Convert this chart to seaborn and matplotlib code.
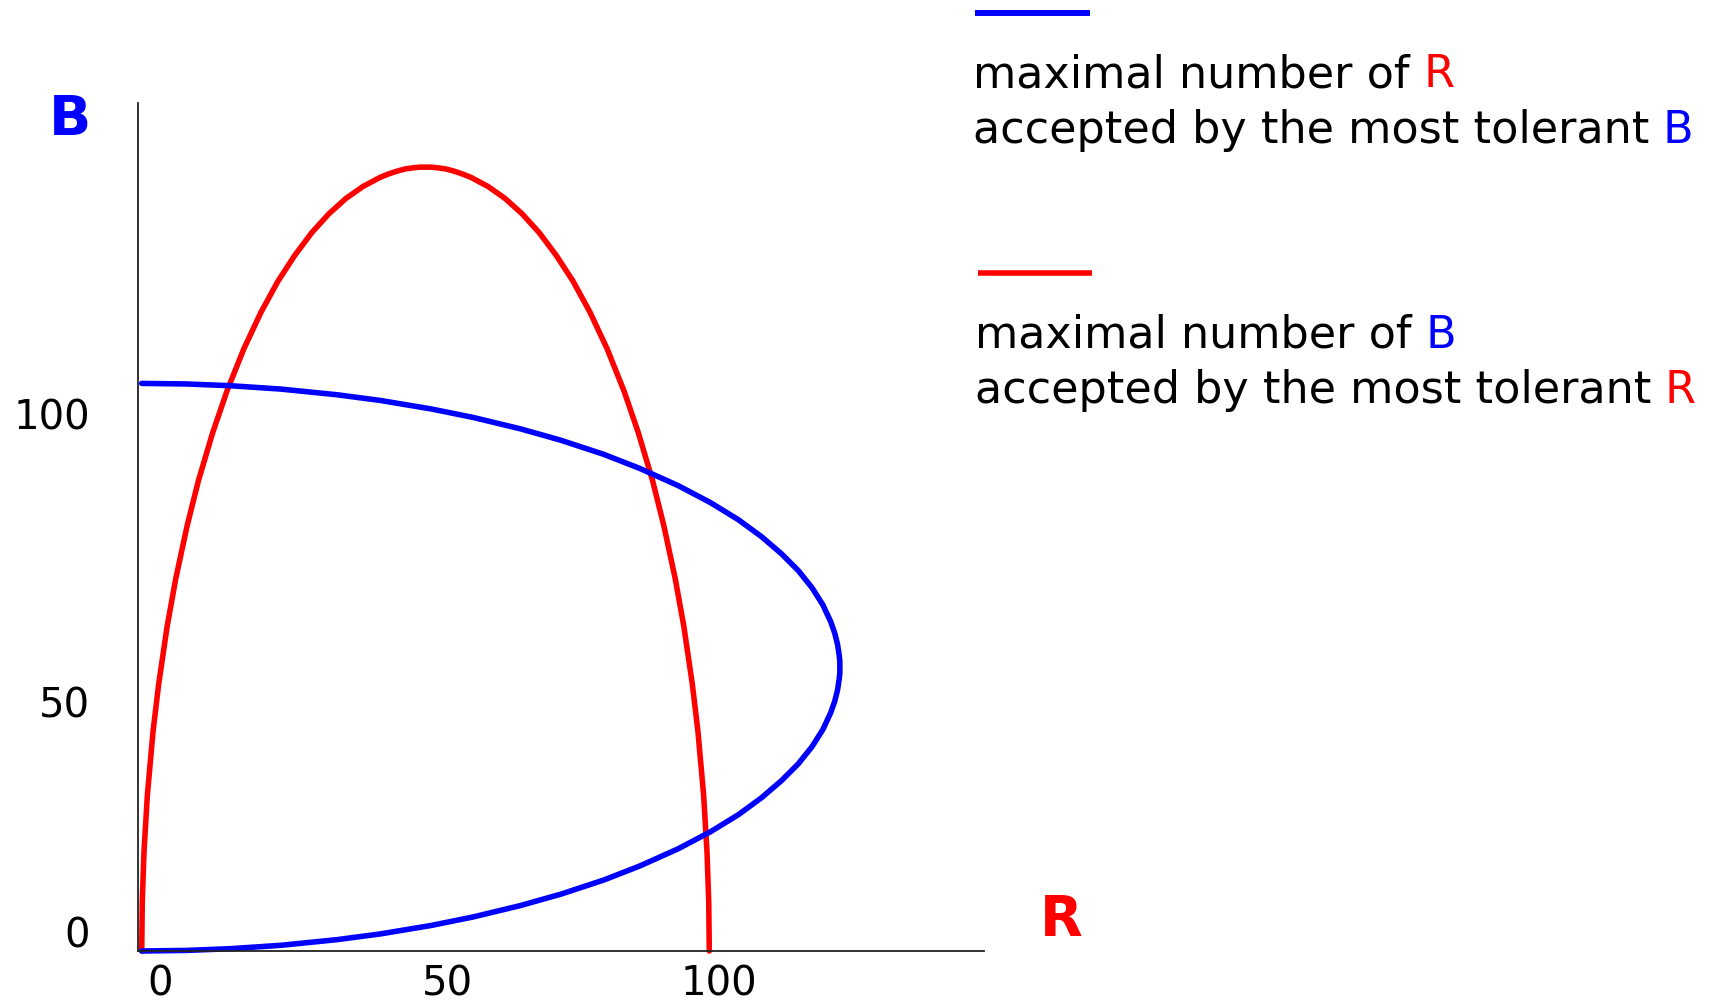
import matplotlib
matplotlib.use("Agg")
import matplotlib.pyplot as plt
import matplotlib.transforms as mtransforms
from matplotlib.lines import Line2D
import seaborn as sns

# Most tolerant R: largest number of B it accepts, for each number of R
red_R = [0, 0.1, 0.4, 1, 2, 3, 4.5, 6, 8, 10, 12.5, 15, 18, 21, 24, 27, 30, 33, 36, 39,
         42, 43.5, 45, 46.5, 48, 49, 50, 51, 52, 53.5, 55, 56.5, 58, 61, 64, 67,
         70, 73, 76, 79, 82, 85, 87.5, 90, 92, 94, 95.5, 97, 98, 99, 99.6, 99.9, 100]
red_B = [0, 8.7, 17.4, 27.5, 38.7, 47.1, 57.3, 65.6, 74.9, 82.9, 91.3, 98.6, 106.1, 112.5,
         118.0, 122.6, 126.6, 129.9, 132.6, 134.7,
         136.3, 136.9, 137.4, 137.8, 138.0, 138.1, 138.1, 138.1, 138.0, 137.8, 137.4, 136.9,
         136.3, 134.7, 132.6, 129.9,
         126.6, 122.6, 118.0, 112.5, 106.1, 98.6, 91.3, 82.9, 74.9, 65.6, 57.3, 47.1, 38.7,
         27.5, 17.4, 8.7, 0]

# Most tolerant B: largest number of R it accepts, traced upward along B
blue_B = [0, 0.1, 0.4, 1, 2, 3, 4.5, 6, 8, 10, 12.5, 15, 18, 21, 24, 27, 30, 33, 36, 39,
          42, 44, 46, 48, 49, 50, 51, 52, 54, 56, 58, 61, 64, 67, 70, 73, 76, 79, 82, 85,
          87.5, 90, 92, 94, 95.5, 97, 98, 99, 99.6, 99.9, 100]
blue_R = [0, 7.8, 15.5, 24.5, 34.4, 42.0, 51.0, 58.4, 66.7, 73.8, 81.4, 87.8, 94.5, 100.2,
          105.1, 109.2, 112.7, 115.7, 118.1, 120.0,
          121.4, 122.1, 122.6, 122.9, 123.0, 123.0, 123.0, 122.9, 122.6, 122.1,
          121.4, 120.0, 118.1, 115.7, 112.7, 109.2, 105.1, 100.2, 94.5, 87.8,
          81.4, 73.8, 66.7, 58.4, 51.0, 42.0, 34.4, 24.5, 15.5, 7.8, 0]

x_ticks = [0, 50, 100]
x_tick_labels = ["0", "50", "100"]
y_ticks = [0, 50, 100]
y_tick_labels = ["0", "50", "100"]

legend_blue = ["maximal number of", "R", "accepted by the most tolerant", "B"]
legend_red = ["maximal number of", "B", "accepted by the most tolerant", "R"]

BLUE = "#0000ff"
RED = "#ff0000"
W, H = 1718, 1006

sns.set_theme(style="white")
plt.rcParams["font.family"] = ["DejaVu Sans"]

fig = plt.figure(figsize=(W / 100, H / 100), dpi=100)
ax = fig.add_axes([138.3 / W, 55 / H, (984 - 138.3) / W, (951 - 103) / H])

sns.lineplot(x=red_R, y=red_B, sort=False, estimator=None, color=RED,
             linewidth=4.0, ax=ax, clip_on=False)
sns.lineplot(x=blue_R, y=blue_B, sort=False, estimator=None, color=BLUE,
             linewidth=4.0, ax=ax, clip_on=False)

ax.set_xlim(-0.6, 148.4)
ax.set_ylim(0, 149.4)
ax.set_xticks([])
ax.set_yticks([])
ax.set_xlabel("")
ax.set_ylabel("")
sns.despine(ax=ax)
for side in ("left", "bottom"):
    ax.spines[side].set_color("#222222")
    ax.spines[side].set_linewidth(1.3)


def px_shift(dx, dy):
    return mtransforms.ScaledTranslation(dx / 100, dy / 100, fig.dpi_scale_trans)


# tick labels, hand placed beside the axes
x_label_dx = [18, 22, 10]
for v, lab, dx in zip(x_ticks, x_tick_labels, x_label_dx):
    ax.text(v, 0, lab, transform=ax.transData + px_shift(dx, -45),
            ha="center", va="baseline", fontsize=29, color="black", clip_on=False)

y_label_dy = [19, -35, -31]
for v, lab, dy in zip(y_ticks, y_tick_labels, y_label_dy):
    ax.text(-0.6, v, lab, transform=ax.transData + px_shift(-48, dy),
            ha="right", va="center_baseline", fontsize=29, color="black", clip_on=False)

# axis letters
fig.text(70 / W, 1 - 120 / H, "B", color=BLUE, fontsize=40, fontweight="bold",
         ha="center", va="center")
fig.text(1061 / W, 1 - 920 / H, "R", color=RED, fontsize=40, fontweight="bold",
         ha="center", va="center")

# legend swatches
fig.add_artist(Line2D([975 / W, 1090 / W], [1 - 12.5 / H] * 2, transform=fig.transFigure,
                      color=BLUE, linewidth=4.3, solid_capstyle="butt"))
fig.add_artist(Line2D([978 / W, 1092 / W], [1 - 273 / H] * 2, transform=fig.transFigure,
                      color=RED, linewidth=4.0, solid_capstyle="butt"))


def two_tone(x, y, words, accent):
    t = fig.text(x / W, 1 - y / H, words[0], fontsize=32, color="black",
                 ha="left", va="baseline")
    ax.annotate(" " + words[1], xy=(1, 0), xycoords=t, va="bottom", ha="left",
                fontsize=32, color=accent, annotation_clip=False)


two_tone(973, 87, legend_blue[:2], RED)
two_tone(973, 143, legend_blue[2:], BLUE)
two_tone(975, 348, legend_red[:2], BLUE)
two_tone(975, 403, legend_red[2:], RED)

fig.savefig("out.png", dpi=100)
